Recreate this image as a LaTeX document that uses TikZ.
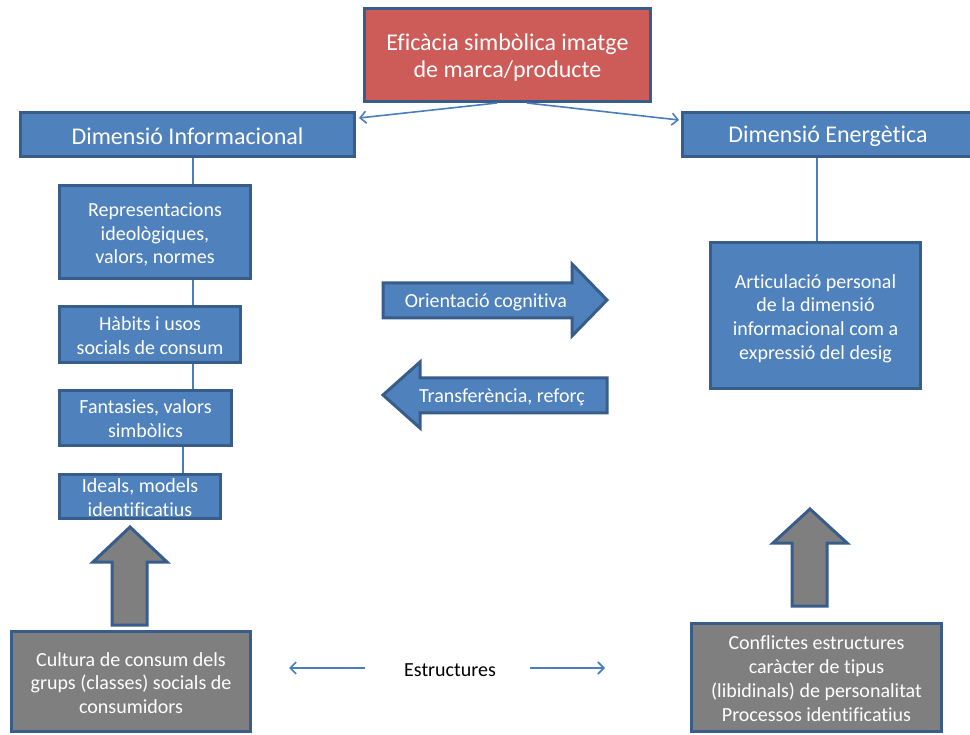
\documentclass[tikz,border=0pt]{standalone}
\usepackage{fontspec}
\setmainfont{Carlito}[Ligatures={NoCommon,NoContextual,NoRare}]
\usetikzlibrary{arrows.meta,calc}
\definecolor{bfill}{HTML}{4F81BD}
\definecolor{bdraw}{HTML}{385D8A}
\definecolor{rfill}{HTML}{CD5B58}
\definecolor{gfill}{HTML}{7F7F7F}
\definecolor{lnk}{HTML}{4A7EBB}
\begin{document}
\begin{tikzpicture}[x=1pt,y=-1pt,
  box/.style={draw=bdraw, line width=3pt, fill=bfill, inner sep=0pt},
  redbox/.style={box, fill=rfill},
  graybox/.style={box, fill=gfill},
  btext/.style={text=white, align=center, inner sep=0pt, font=\fontsize{20}{23.8}\selectfont},
  htext/.style={btext, font=\fontsize{24}{27}\selectfont},
  link/.style={draw=lnk, line width=1.6pt},
  linkarrow/.style={link, -{Straight Barb[length=6pt,width=12pt,line width=1.6pt]}},
  blockarrow/.style={draw=bdraw, line width=3pt, fill=bfill, line join=miter},
  grayarrow/.style={blockarrow, fill=gfill},
  plain/.style={inner sep=0pt, font=\fontsize{20}{24}\selectfont}
]
\useasboundingbox (0,0) rectangle (970,735);

% block arrows
\draw[blockarrow] (383,283) -- (572,283) -- (572,264) -- (607,300) -- (572,336) -- (572,318) -- (383,318) -- cycle;
\node[btext] (orient) at (486,302) {Orientació cognitiva};
\draw[blockarrow] (383,395) -- (420,362) -- (420,378) -- (607,378) -- (607,413) -- (420,413) -- (420,428) -- cycle;
\node[btext] (transf) at (502,397) {Transferència, reforç};

\draw[grayarrow] (112,625) -- (112,562) -- (93,562) -- (130,527) -- (167,562) -- (147,562) -- (147,625) -- cycle;
\draw[grayarrow] (792,606) -- (792,543) -- (773,543) -- (810,509) -- (847,543) -- (827,543) -- (827,606) -- cycle;

% boxes
\node[redbox, minimum width=286pt, minimum height=93pt] (red) at (507.5,55) {};
\node[htext] (redt) at ($(red.center)+(0,3)$) {Eficàcia simbòlica imatge\\de marca/producte};
\node[box, minimum width=334pt, minimum height=44pt] (dinfo) at (187.5,134.5) {};
\node[htext] (dinfot) at ($(dinfo.center)+(0,2)$) {Dimensió Informacional};
\node[box, minimum width=291pt, minimum height=44pt] (dener) at (828,134.5) {};
\node[htext] (denert) at ($(dener.center)+(0,2)$) {Dimensió Energètica};

\node[box, minimum width=191pt, minimum height=93pt] (rep) at (155,232) {};
\node[btext] (rept) at ($(rep.center)+(0,2.5)$) {Representacions\\ideològiques,\\valors, normes};
\node[box, minimum width=181pt, minimum height=56pt] (hab) at (150,334.5) {};
\node[btext] (habt) at ($(hab.center)+(0,1.5)$) {Hàbits i usos\\socials de consum};
\node[box, minimum width=172pt, minimum height=55pt] (fan) at (145.5,418) {};
\node[btext] (fant) at ($(fan.center)+(0,1)$) {Fantasies, valors\\simbòlics};
\node[box, minimum width=161pt, minimum height=44pt] (ide) at (140,496.5) {};
\node[btext] (idet) at ($(ide.center)+(0,1)$) {Ideals, models\\identificatius};

\node[graybox, minimum width=239pt, minimum height=100pt] (cul) at (131,681.5) {};
\node[btext] (cult) at ($(cul.center)+(0,1.5)$) {Cultura de consum dels\\grups (classes) socials de\\consumidors};
\node[graybox, minimum width=250pt, minimum height=108pt] (con) at (816.5,677.5) {};
\node[btext] (cont) at ($(con.center)+(0,1)$) {Conflictes estructures\\caràcter de tipus\\(libidinals) de personalitat\\Processos identificatius};
\node[box, minimum width=210pt, minimum height=146pt] (art) at (815.5,315.5) {};
\node[btext] (artt) at ($(art.center)+(0,3)$) {Articulació personal\\de la dimensió\\informacional com a\\expressió del desig};

\node[plain] (estr) at (450,670) {Estructures};

% connectors
\coordinate (xa) at (193,0);
\coordinate (xb) at (183,0);
\coordinate (xc) at (817,0);
\draw[link] (dinfo.south -| xa) -- (rep.north -| xa);
\draw[link] (rep.south -| xa) -- (hab.north -| xa);
\draw[link] (hab.south -| xa) -- (fan.north -| xa);
\draw[link] (fan.south -| xb) -- (ide.north -| xb);
\draw[link] (dener.south -| xc) -- (art.north -| xc);

\coordinate (rl) at (497,103);
\coordinate (rr) at (527,103);
\coordinate (il) at (359,118);
\coordinate (er) at (679,120);
\draw[linkarrow] (rl) -- (il);
\draw[linkarrow] (rr) -- (er);

\coordinate (el1) at (365,668);
\coordinate (el2) at (289,668);
\coordinate (er1) at (530,668);
\coordinate (er2) at (605,668);
\draw[linkarrow] (el1) -- (el2);
\draw[linkarrow] (er1) -- (er2);
\end{tikzpicture}
\end{document}
